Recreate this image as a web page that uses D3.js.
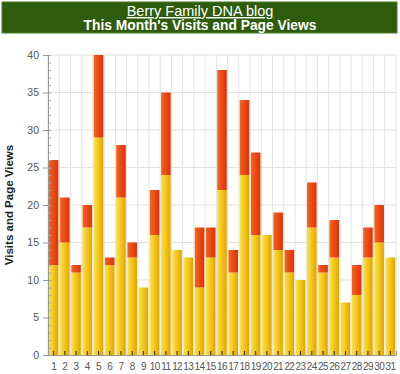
<!DOCTYPE html>
<html>
<head>
<meta charset="utf-8">
<script src="https://cdn.jsdelivr.net/npm/d3@7"></script>
<style>
  body { margin: 0; background: #fff; }
  svg { display: block; font-family: "Liberation Sans", Arial, sans-serif; }
</style>
</head>
<body>
<svg id="chart" width="400" height="374"></svg>
<script>
// days of the month
var days = d3.range(1, 32).map(String);
// visits (yellow part)
var visits = [12, 15, 11, 17, 29, 12, 21, 13, 9, 16, 24, 14, 13, 9, 13, 22,
              11, 24, 16, 16, 14, 11, 10, 17, 11, 13, 7, 8, 13, 15, 13];
// page views (top of the red part)
var pageViews = [26, 21, 12, 20, 40, 13, 28, 15, 9, 22, 35, 14, 13, 17, 17, 38,
                 14, 34, 27, 16, 19, 14, 10, 23, 12, 18, 7, 12, 17, 20, 13];
var yTicks = [0, 5, 10, 15, 20, 25, 30, 35, 40];

var svg = d3.select("#chart");
var margin = {top: 55, right: 4, bottom: 19, left: 48},
    width = +svg.attr("width") - margin.left - margin.right,
    height = +svg.attr("height") - margin.top - margin.bottom;

// gradients for the bars
var defs = svg.append("defs");
function grad(id, stops) {
    var g = defs.append("linearGradient").attr("id", id)
        .attr("x1", "0%").attr("x2", "100%").attr("y1", "0%").attr("y2", "0%");
    stops.forEach(function (s) {
        g.append("stop").attr("offset", s[0]).attr("stop-color", s[1]);
    });
}
grad("gYellow", [["0%", "#f6df5a"], ["35%", "#f7cf22"], ["100%", "#e3a400"]]);
grad("gRed", [["0%", "#ea6a1e"], ["45%", "#f04a14"], ["100%", "#dc3208"]]);

// title banner
svg.append("rect").attr("x", 2).attr("y", 2).attr("width", 395).attr("height", 31)
    .attr("fill", "#2e5c0c").attr("stroke", "#4a7a2a").attr("stroke-width", 1);
svg.append("text").attr("x", 200).attr("y", 16).attr("text-anchor", "middle")
    .attr("fill", "#fff").attr("font-size", 14.5).attr("text-decoration", "underline")
    .text("Berry Family DNA blog");
svg.append("text").attr("x", 200).attr("y", 30).attr("text-anchor", "middle")
    .attr("fill", "#fff").attr("font-size", 13.8).attr("font-weight", "bold")
    .text("This Month's Visits and Page Views");

var x = d3.scaleBand().domain(days).range([0, width]).paddingInner(0.15).paddingOuter(0.075),
    y = d3.scaleLinear().domain([0, 40]).range([height, 0]);

var g = svg.append("g")
    .attr("transform", "translate(" + margin.left + "," + margin.top + ")");

// grid
var step = x.step();
g.append("g").selectAll("line")
    .data(d3.range(days.length + 1))
    .enter().append("line")
    .attr("x1", function (i) { return i * step; })
    .attr("x2", function (i) { return i * step; })
    .attr("y1", 0).attr("y2", height)
    .attr("stroke", "#e2e2e2");
g.append("g").selectAll("line")
    .data(yTicks.slice(1))
    .enter().append("line")
    .attr("x1", 0).attr("x2", width)
    .attr("y1", function (d) { return y(d); })
    .attr("y2", function (d) { return y(d); })
    .attr("stroke", "#e2e2e2");

// bars
g.selectAll(".visit")
    .data(days)
    .enter().append("rect")
    .attr("class", "visit")
    .attr("x", function (d) { return x(d); })
    .attr("y", function (d, i) { return y(visits[i]); })
    .attr("width", x.bandwidth())
    .attr("height", function (d, i) { return height - y(visits[i]); })
    .attr("fill", "url(#gYellow)");

g.selectAll(".view")
    .data(days)
    .enter().append("rect")
    .attr("class", "view")
    .attr("x", function (d) { return x(d); })
    .attr("y", function (d, i) { return y(pageViews[i]); })
    .attr("width", x.bandwidth())
    .attr("height", function (d, i) { return y(visits[i]) - y(pageViews[i]); })
    .attr("fill", "url(#gRed)");

// x axis
var xa = g.append("g")
    .attr("transform", "translate(0," + height + ")")
    .call(d3.axisBottom(x).tickSize(-4).tickPadding(8));
xa.select(".domain").attr("stroke", "#999");
xa.selectAll(".tick line").attr("stroke", "#222");
xa.selectAll("text").attr("fill", "#555").attr("font-size", 10)
    .attr("font-family", "Liberation Sans, Arial, sans-serif").attr("letter-spacing", -0.6);

// y axis, minor ticks first
var ym = g.append("g")
    .call(d3.axisLeft(y).ticks(40).tickSize(-3).tickFormat(""));
ym.select(".domain").remove();
ym.selectAll(".tick line").attr("stroke", "#aaa");

var ya = g.append("g")
    .call(d3.axisLeft(y).tickValues(yTicks).tickSizeInner(5).tickSizeOuter(0).tickPadding(4));
ya.select(".domain").attr("stroke", "#999");
ya.selectAll(".tick line").attr("stroke", "#999");
ya.selectAll("text").attr("fill", "#555").attr("font-size", 10.5)
    .attr("font-family", "Liberation Sans, Arial, sans-serif");

svg.append("text")
    .attr("transform", "translate(13," + (margin.top + height / 2) + ") rotate(-90)")
    .attr("text-anchor", "middle")
    .attr("font-size", 11.5).attr("font-weight", "bold").attr("fill", "#222")
    .text("Visits and Page Views");
</script>
</body>
</html>
